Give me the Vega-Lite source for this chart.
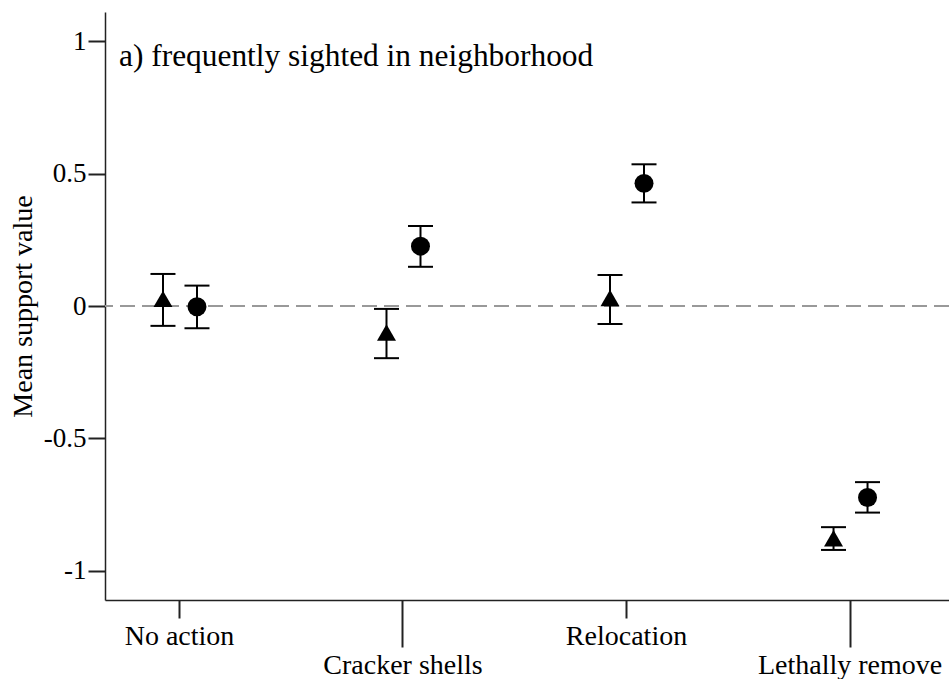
{
  "$schema": "https://vega.github.io/schema/vega-lite/v6.json",
  "width": 844,
  "height": 588,
  "autosize": {"type": "none"},
  "padding": {"left": 105, "top": 12, "right": 0, "bottom": 79},
  "background": "white",
  "title": {
    "text": "a) frequently sighted in neighborhood",
    "anchor": "start",
    "frame": "group",
    "orient": "top",
    "offset": -85,
    "baseline": "alphabetic",
    "dx": 14,
    "font": "Liberation Serif",
    "fontSize": 31.4,
    "fontWeight": "normal",
    "color": "black"
  },
  "data": {
    "values": [
      {"action": "No action", "group": "Group 1", "mean": 0.027, "lo": -0.075, "hi": 0.121},
      {"action": "No action", "group": "Group 2", "mean": -0.003, "lo": -0.084, "hi": 0.077},
      {"action": "Cracker shells", "group": "Group 1", "mean": -0.1, "lo": -0.197, "hi": -0.011},
      {"action": "Cracker shells", "group": "Group 2", "mean": 0.226, "lo": 0.148, "hi": 0.302},
      {"action": "Relocation", "group": "Group 1", "mean": 0.03, "lo": -0.068, "hi": 0.117},
      {"action": "Relocation", "group": "Group 2", "mean": 0.463, "lo": 0.391, "hi": 0.535},
      {"action": "Lethally remove", "group": "Group 1", "mean": -0.877, "lo": -0.921, "hi": -0.835},
      {"action": "Lethally remove", "group": "Group 2", "mean": -0.723, "lo": -0.78, "hi": -0.665}
    ]
  },
  "resolve": {"axis": {"x": "independent", "y": "independent"}},
  "encoding": {
    "x": {
      "field": "action",
      "type": "nominal",
      "sort": ["No action", "Cracker shells", "Relocation", "Lethally remove"],
      "scale": {"type": "point", "padding": 0.388, "align": 0.4265},
      "axis": null
    },
    "xOffset": {
      "field": "group",
      "type": "nominal",
      "scale": {"type": "point", "domain": ["Group 1", "Group 2"], "range": [-16, 18], "padding": 0},
      "legend": null
    }
  },
  "layer": [
    {
      "mark": {"type": "rule", "color": "#999999", "strokeWidth": 1.5, "strokeDash": [15, 7]},
      "encoding": {
        "x": null,
        "xOffset": null,
        "y": {"datum": 0, "type": "quantitative", "scale": {"domain": [-1.11, 1.11], "nice": false, "zero": false}, "axis": null}
      }
    },
    {
      "mark": {"type": "rule", "color": "black", "strokeWidth": 2},
      "encoding": {
        "x": {
          "field": "action",
          "type": "nominal",
          "sort": ["No action", "Cracker shells", "Relocation", "Lethally remove"],
          "scale": {"type": "point", "padding": 0.388, "align": 0.4265},
          "axis": {
            "title": null,
            "orient": "bottom",
            "values": ["No action", "Relocation"],
            "labelAngle": 0,
            "tickSize": 18,
            "labelPadding": 4,
            "labelLimit": 400,
            "labelFont": "Liberation Serif"
          }
        },
        "y": {"field": "lo", "type": "quantitative", "scale": {"domain": [-1.11, 1.11], "nice": false, "zero": false}, "axis": {"title": "Mean support value", "orient": "left", "values": [-1, -0.5, 0, 0.5, 1], "labelFont": "Liberation Serif"}},
        "y2": {"field": "hi"}
      }
    },
    {
      "mark": {"type": "tick", "color": "black", "thickness": 2, "size": 25, "orient": "horizontal", "opacity": 1},
      "encoding": {
        "y": {"field": "lo", "type": "quantitative", "scale": {"domain": [-1.11, 1.11], "nice": false, "zero": false}, "axis": null}
      }
    },
    {
      "mark": {"type": "tick", "color": "black", "thickness": 2, "size": 25, "orient": "horizontal", "opacity": 1},
      "encoding": {
        "y": {"field": "hi", "type": "quantitative", "scale": {"domain": [-1.11, 1.11], "nice": false, "zero": false}, "axis": null}
      }
    },
    {
      "mark": {"type": "point", "filled": true, "color": "black", "opacity": 1, "size": 360},
      "encoding": {
        "x": {
          "field": "action",
          "type": "nominal",
          "sort": ["No action", "Cracker shells", "Relocation", "Lethally remove"],
          "scale": {"type": "point", "padding": 0.388, "align": 0.4265},
          "axis": {
            "title": null,
            "orient": "bottom",
            "values": ["Cracker shells", "Lethally remove"],
            "domain": false,
            "labelAngle": 0,
            "tickSize": 47,
            "labelPadding": 4,
            "labelLimit": 400,
            "labelFont": "Liberation Serif"
          }
        },
        "y": {"field": "mean", "type": "quantitative", "scale": {"domain": [-1.11, 1.11], "nice": false, "zero": false}, "axis": null},
        "shape": {"field": "group", "type": "nominal", "scale": {"domain": ["Group 1", "Group 2"], "range": ["triangle-up", "circle"]}, "legend": null}
      }
    }
  ],
  "config": {
    "view": {"stroke": null},
    "axis": {
      "domainColor": "#222222",
      "domainWidth": 1.5,
      "tickColor": "#222222",
      "tickWidth": 2,
      "labelColor": "black",
      "labelFont": "Liberation Serif",
      "labelFontSize": 27,
      "titleFont": "Liberation Serif",
      "titleFontSize": 28,
      "titleFontWeight": "normal",
      "titleColor": "black",
      "grid": false
    },
    "axisX": {"labelFontSize": 28},
    "axisY": {
      "labelExpr": "toString(datum.value)",
      "tickSize": 17,
      "labelPadding": 2,
      "titlePadding": 6
    }
  }
}
